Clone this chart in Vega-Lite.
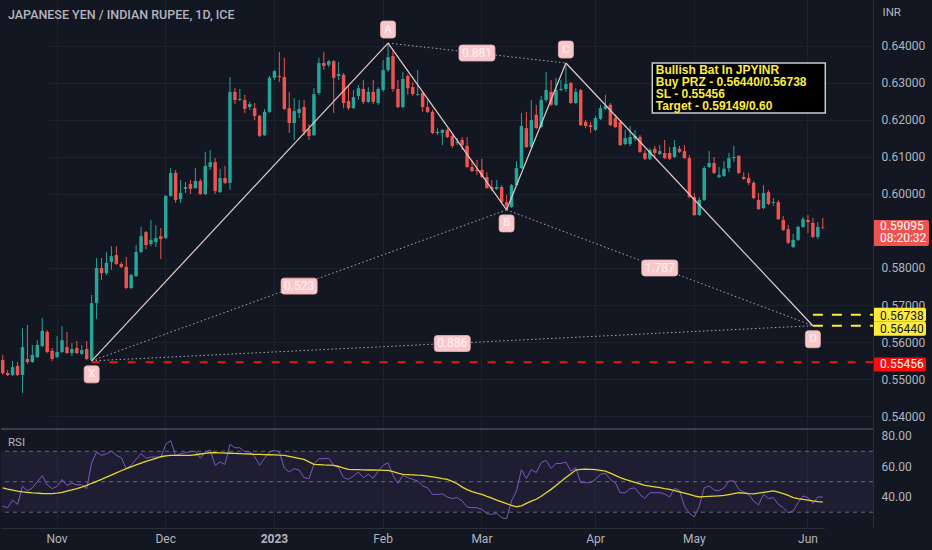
{
"$schema": "https://vega.github.io/schema/vega-lite/v6.json",
"background": "#131722",
"padding": 0,
"spacing": 0,
"config": {"view": {"stroke": null}, "font": "Roboto", "axis": {"labelFont": "Roboto", "titleFont": "Roboto"}},
"datasets": {
"bars": [
{"date":"2022-10-17","open":0.5551,"high":0.5565,"low":0.5511,"close":0.5516,"rsi":34,"rsiMA":46},
{"date":"2022-10-18","open":0.5516,"high":0.5524,"low":0.5508,"close":0.5511,"rsi":33,"rsiMA":45.2},
{"date":"2022-10-19","open":0.5511,"high":0.5549,"low":0.5508,"close":0.5532,"rsi":38,"rsiMA":44.5},
{"date":"2022-10-20","open":0.5535,"high":0.5546,"low":0.5508,"close":0.5511,"rsi":35,"rsiMA":43.8},
{"date":"2022-10-21","open":0.5511,"high":0.5638,"low":0.5462,"close":0.5586,"rsi":47,"rsiMA":43.3},
{"date":"2022-10-24","open":0.5554,"high":0.5646,"low":0.5541,"close":0.5546,"rsi":44,"rsiMA":43},
{"date":"2022-10-25","open":0.5546,"high":0.5592,"low":0.5543,"close":0.5565,"rsi":46,"rsiMA":42.7},
{"date":"2022-10-26","open":0.5559,"high":0.5605,"low":0.5557,"close":0.5592,"rsi":50,"rsiMA":42.5},
{"date":"2022-10-27","open":0.5589,"high":0.5665,"low":0.5586,"close":0.5630,"rsi":54,"rsiMA":42.3},
{"date":"2022-10-28","open":0.5627,"high":0.5632,"low":0.5570,"close":0.5573,"rsi":48,"rsiMA":42.2},
{"date":"2022-10-31","open":0.5576,"high":0.5584,"low":0.5549,"close":0.5554,"rsi":45.5,"rsiMA":42.2},
{"date":"2022-11-01","open":0.5559,"high":0.5616,"low":0.5557,"close":0.5573,"rsi":47,"rsiMA":42.5},
{"date":"2022-11-02","open":0.5573,"high":0.5643,"low":0.5570,"close":0.5605,"rsi":51.5,"rsiMA":43},
{"date":"2022-11-03","open":0.5586,"high":0.5627,"low":0.5568,"close":0.5570,"rsi":47.6,"rsiMA":43.8},
{"date":"2022-11-04","open":0.5570,"high":0.5597,"low":0.5562,"close":0.5581,"rsi":49,"rsiMA":44.6},
{"date":"2022-11-07","open":0.5584,"high":0.5603,"low":0.5568,"close":0.5570,"rsi":48,"rsiMA":45.5},
{"date":"2022-11-08","open":0.5568,"high":0.5592,"low":0.5565,"close":0.5578,"rsi":48,"rsiMA":46.5},
{"date":"2022-11-09","open":0.5581,"high":0.5603,"low":0.5551,"close":0.5554,"rsi":45.5,"rsiMA":47.6},
{"date":"2022-11-10","open":0.5551,"high":0.5727,"low":0.5549,"close":0.5705,"rsi":62.5,"rsiMA":49},
{"date":"2022-11-11","open":0.5705,"high":0.5827,"low":0.5662,"close":0.5800,"rsi":69.5,"rsiMA":50.3},
{"date":"2022-11-14","open":0.5800,"high":0.5827,"low":0.5768,"close":0.5786,"rsi":67.3,"rsiMA":51.6},
{"date":"2022-11-15","open":0.5786,"high":0.5843,"low":0.5781,"close":0.5814,"rsi":68.4,"rsiMA":53},
{"date":"2022-11-16","open":0.5816,"high":0.5859,"low":0.5795,"close":0.5832,"rsi":70,"rsiMA":54.4},
{"date":"2022-11-17","open":0.5835,"high":0.5859,"low":0.5808,"close":0.5811,"rsi":67.3,"rsiMA":55.8},
{"date":"2022-11-18","open":0.5811,"high":0.5816,"low":0.5800,"close":0.5803,"rsi":65.8,"rsiMA":57.2},
{"date":"2022-11-21","open":0.5803,"high":0.5830,"low":0.5743,"close":0.5746,"rsi":58.6,"rsiMA":58.6},
{"date":"2022-11-22","open":0.5746,"high":0.5784,"low":0.5743,"close":0.5781,"rsi":60.8,"rsiMA":59.8},
{"date":"2022-11-23","open":0.5778,"high":0.5862,"low":0.5776,"close":0.5843,"rsi":64.7,"rsiMA":61},
{"date":"2022-11-24","open":0.5843,"high":0.5911,"low":0.5841,"close":0.5886,"rsi":68.4,"rsiMA":62.2},
{"date":"2022-11-25","open":0.5897,"high":0.5900,"low":0.5851,"close":0.5862,"rsi":65.4,"rsiMA":63.3},
{"date":"2022-11-28","open":0.5865,"high":0.5930,"low":0.5859,"close":0.5876,"rsi":66.2,"rsiMA":64.3},
{"date":"2022-11-29","open":0.5870,"high":0.5916,"low":0.5857,"close":0.5881,"rsi":66.2,"rsiMA":65.4},
{"date":"2022-11-30","open":0.5886,"high":0.5908,"low":0.5824,"close":0.5878,"rsi":66,"rsiMA":66.4},
{"date":"2022-12-01","open":0.5881,"high":0.5997,"low":0.5878,"close":0.5995,"rsi":74.5,"rsiMA":67},
{"date":"2022-12-02","open":0.5995,"high":0.6070,"low":0.5992,"close":0.6057,"rsi":77,"rsiMA":67.3},
{"date":"2022-12-05","open":0.6057,"high":0.6065,"low":0.5976,"close":0.5984,"rsi":67.3,"rsiMA":67.3},
{"date":"2022-12-06","open":0.5986,"high":0.6038,"low":0.5976,"close":0.6003,"rsi":68.4,"rsiMA":67.3},
{"date":"2022-12-07","open":0.6014,"high":0.6032,"low":0.6003,"close":0.6019,"rsi":69,"rsiMA":67.3},
{"date":"2022-12-08","open":0.6027,"high":0.6038,"low":0.6000,"close":0.6014,"rsi":69.7,"rsiMA":67.3},
{"date":"2022-12-09","open":0.6016,"high":0.6070,"low":0.6014,"close":0.6035,"rsi":70,"rsiMA":67.7},
{"date":"2022-12-12","open":0.6035,"high":0.6041,"low":0.5997,"close":0.6000,"rsi":65.4,"rsiMA":68.2},
{"date":"2022-12-13","open":0.6000,"high":0.6114,"low":0.5997,"close":0.6076,"rsi":69.5,"rsiMA":68.6},
{"date":"2022-12-14","open":0.6073,"high":0.6119,"low":0.6065,"close":0.6086,"rsi":70.8,"rsiMA":69},
{"date":"2022-12-15","open":0.6086,"high":0.6097,"low":0.6000,"close":0.6008,"rsi":60.8,"rsiMA":69},
{"date":"2022-12-16","open":0.6005,"high":0.6068,"low":0.6003,"close":0.6043,"rsi":63,"rsiMA":68.9},
{"date":"2022-12-19","open":0.6043,"high":0.6076,"low":0.6027,"close":0.6030,"rsi":61.4,"rsiMA":68.8},
{"date":"2022-12-20","open":0.6030,"high":0.6316,"low":0.6011,"close":0.6276,"rsi":74.5,"rsiMA":68.7},
{"date":"2022-12-21","open":0.6276,"high":0.6286,"low":0.6243,"close":0.6254,"rsi":72.3,"rsiMA":68.6},
{"date":"2022-12-22","open":0.6254,"high":0.6284,"low":0.6251,"close":0.6257,"rsi":72.3,"rsiMA":68.5},
{"date":"2022-12-23","open":0.6254,"high":0.6268,"low":0.6219,"close":0.6230,"rsi":69.7,"rsiMA":68.3},
{"date":"2022-12-26","open":0.6235,"high":0.6249,"low":0.6227,"close":0.6243,"rsi":69.7,"rsiMA":68.2},
{"date":"2022-12-27","open":0.6232,"high":0.6246,"low":0.6200,"close":0.6211,"rsi":66.4,"rsiMA":68},
{"date":"2022-12-28","open":0.6211,"high":0.6214,"low":0.6154,"close":0.6157,"rsi":60.8,"rsiMA":67.9},
{"date":"2022-12-29","open":0.6159,"high":0.6230,"low":0.6157,"close":0.6222,"rsi":65.4,"rsiMA":67.8},
{"date":"2022-12-30","open":0.6222,"high":0.6319,"low":0.6219,"close":0.6314,"rsi":69.5,"rsiMA":67.7},
{"date":"2023-01-02","open":0.6314,"high":0.6335,"low":0.6308,"close":0.6332,"rsi":70.6,"rsiMA":67.6},
{"date":"2023-01-03","open":0.6319,"high":0.6384,"low":0.6303,"close":0.6316,"rsi":69.5,"rsiMA":67.4},
{"date":"2023-01-04","open":0.6316,"high":0.6368,"low":0.6227,"close":0.6230,"rsi":59,"rsiMA":67.3},
{"date":"2023-01-05","open":0.6232,"high":0.6276,"low":0.6165,"close":0.6192,"rsi":56.4,"rsiMA":66.7},
{"date":"2023-01-06","open":0.6192,"high":0.6259,"low":0.6146,"close":0.6224,"rsi":58.6,"rsiMA":66},
{"date":"2023-01-09","open":0.6219,"high":0.6254,"low":0.6205,"close":0.6230,"rsi":57.7,"rsiMA":65.3},
{"date":"2023-01-10","open":0.6235,"high":0.6254,"low":0.6159,"close":0.6168,"rsi":52.7,"rsiMA":64.7},
{"date":"2023-01-11","open":0.6176,"high":0.6189,"low":0.6146,"close":0.6157,"rsi":52,"rsiMA":63},
{"date":"2023-01-12","open":0.6159,"high":0.6286,"low":0.6157,"close":0.6270,"rsi":61.4,"rsiMA":61.4},
{"date":"2023-01-13","open":0.6273,"high":0.6368,"low":0.6268,"close":0.6354,"rsi":65.1,"rsiMA":61.2},
{"date":"2023-01-16","open":0.6354,"high":0.6384,"low":0.6335,"close":0.6346,"rsi":65.1,"rsiMA":61},
{"date":"2023-01-17","open":0.6349,"high":0.6362,"low":0.6343,"close":0.6359,"rsi":65.4,"rsiMA":60.9},
{"date":"2023-01-18","open":0.6359,"high":0.6362,"low":0.6219,"close":0.6314,"rsi":60.8,"rsiMA":60.8},
{"date":"2023-01-19","open":0.6319,"high":0.6357,"low":0.6308,"close":0.6324,"rsi":59.2,"rsiMA":60},
{"date":"2023-01-20","open":0.6322,"high":0.6327,"low":0.6232,"close":0.6246,"rsi":52.7,"rsiMA":59},
{"date":"2023-01-23","open":0.6251,"high":0.6295,"low":0.6227,"close":0.6232,"rsi":51.6,"rsiMA":58.1},
{"date":"2023-01-24","open":0.6232,"high":0.6281,"low":0.6230,"close":0.6262,"rsi":53.8,"rsiMA":58},
{"date":"2023-01-25","open":0.6265,"high":0.6295,"low":0.6254,"close":0.6286,"rsi":56.4,"rsiMA":57.9},
{"date":"2023-01-26","open":0.6284,"high":0.6308,"low":0.6243,"close":0.6249,"rsi":52.7,"rsiMA":57.8},
{"date":"2023-01-27","open":0.6249,"high":0.6289,"low":0.6246,"close":0.6276,"rsi":54.9,"rsiMA":57.7},
{"date":"2023-01-30","open":0.6276,"high":0.6308,"low":0.6243,"close":0.6249,"rsi":52.2,"rsiMA":57.7},
{"date":"2023-01-31","open":0.6246,"high":0.6289,"low":0.6241,"close":0.6284,"rsi":57,"rsiMA":57.6},
{"date":"2023-02-01","open":0.6281,"high":0.6362,"low":0.6276,"close":0.6335,"rsi":60.8,"rsiMA":57.5},
{"date":"2023-02-02","open":0.6335,"high":0.6408,"low":0.6330,"close":0.6370,"rsi":62.5,"rsiMA":57.5},
{"date":"2023-02-03","open":0.6373,"high":0.6389,"low":0.6276,"close":0.6284,"rsi":54.2,"rsiMA":56.6},
{"date":"2023-02-06","open":0.6284,"high":0.6308,"low":0.6232,"close":0.6235,"rsi":49,"rsiMA":55.7},
{"date":"2023-02-07","open":0.6235,"high":0.6330,"low":0.6232,"close":0.6311,"rsi":54.2,"rsiMA":54.9},
{"date":"2023-02-08","open":0.6319,"high":0.6324,"low":0.6268,"close":0.6286,"rsi":52.7,"rsiMA":54.7},
{"date":"2023-02-09","open":0.6289,"high":0.6303,"low":0.6265,"close":0.6270,"rsi":51.6,"rsiMA":54.5},
{"date":"2023-02-10","open":0.6268,"high":0.6335,"low":0.6265,"close":0.6270,"rsi":50.5,"rsiMA":54.3},
{"date":"2023-02-13","open":0.6273,"high":0.6278,"low":0.6222,"close":0.6235,"rsi":47.2,"rsiMA":54.2},
{"date":"2023-02-14","open":0.6235,"high":0.6254,"low":0.6219,"close":0.6222,"rsi":46,"rsiMA":53.7},
{"date":"2023-02-15","open":0.6222,"high":0.6227,"low":0.6162,"close":0.6165,"rsi":41.7,"rsiMA":53.2},
{"date":"2023-02-16","open":0.6165,"high":0.6178,"low":0.6159,"close":0.6168,"rsi":41.7,"rsiMA":52.7},
{"date":"2023-02-17","open":0.6165,"high":0.6176,"low":0.6132,"close":0.6173,"rsi":42,"rsiMA":52.1},
{"date":"2023-02-20","open":0.6173,"high":0.6178,"low":0.6151,"close":0.6154,"rsi":40,"rsiMA":51.6},
{"date":"2023-02-21","open":0.6157,"high":0.6162,"low":0.6124,"close":0.6130,"rsi":39,"rsiMA":50.2},
{"date":"2023-02-22","open":0.6138,"high":0.6151,"low":0.6132,"close":0.6141,"rsi":39.6,"rsiMA":48.7},
{"date":"2023-02-23","open":0.6146,"high":0.6154,"low":0.6119,"close":0.6132,"rsi":37.4,"rsiMA":46.5},
{"date":"2023-02-24","open":0.6130,"high":0.6154,"low":0.6070,"close":0.6073,"rsi":33.5,"rsiMA":44.8},
{"date":"2023-02-27","open":0.6073,"high":0.6092,"low":0.6059,"close":0.6062,"rsi":33,"rsiMA":43.5},
{"date":"2023-02-28","open":0.6065,"high":0.6092,"low":0.6051,"close":0.6062,"rsi":33,"rsiMA":42.5},
{"date":"2023-03-01","open":0.6065,"high":0.6095,"low":0.6043,"close":0.6046,"rsi":32,"rsiMA":41.7},
{"date":"2023-03-02","open":0.6046,"high":0.6059,"low":0.6014,"close":0.6016,"rsi":29,"rsiMA":40.4},
{"date":"2023-03-03","open":0.6019,"high":0.6038,"low":0.6008,"close":0.6014,"rsi":28.6,"rsiMA":39.2},
{"date":"2023-03-06","open":0.6014,"high":0.6038,"low":0.6011,"close":0.6019,"rsi":29.3,"rsiMA":38},
{"date":"2023-03-07","open":0.6019,"high":0.6024,"low":0.5976,"close":0.5978,"rsi":26.4,"rsiMA":36.8},
{"date":"2023-03-08","open":0.5978,"high":0.5997,"low":0.5957,"close":0.5968,"rsi":25.8,"rsiMA":35.6},
{"date":"2023-03-09","open":0.5965,"high":0.6027,"low":0.5962,"close":0.6024,"rsi":37.4,"rsiMA":34.5},
{"date":"2023-03-10","open":0.6024,"high":0.6089,"low":0.6022,"close":0.6070,"rsi":44,"rsiMA":33.6},
{"date":"2023-03-13","open":0.6070,"high":0.6219,"low":0.6068,"close":0.6184,"rsi":58,"rsiMA":34.2},
{"date":"2023-03-14","open":0.6178,"high":0.6222,"low":0.6124,"close":0.6127,"rsi":52,"rsiMA":35.8},
{"date":"2023-03-15","open":0.6127,"high":0.6254,"low":0.6124,"close":0.6200,"rsi":58,"rsiMA":37.3},
{"date":"2023-03-16","open":0.6214,"high":0.6241,"low":0.6176,"close":0.6178,"rsi":56,"rsiMA":38.5},
{"date":"2023-03-17","open":0.6181,"high":0.6265,"low":0.6178,"close":0.6254,"rsi":62.5,"rsiMA":40.5},
{"date":"2023-03-20","open":0.6254,"high":0.6330,"low":0.6249,"close":0.6281,"rsi":64,"rsiMA":42.8},
{"date":"2023-03-21","open":0.6276,"high":0.6308,"low":0.6238,"close":0.6241,"rsi":58.8,"rsiMA":45},
{"date":"2023-03-22","open":0.6241,"high":0.6314,"low":0.6238,"close":0.6281,"rsi":62,"rsiMA":47.6},
{"date":"2023-03-23","open":0.6281,"high":0.6308,"low":0.6278,"close":0.6284,"rsi":62,"rsiMA":50.2},
{"date":"2023-03-24","open":0.6284,"high":0.6354,"low":0.6276,"close":0.6297,"rsi":63,"rsiMA":52.8},
{"date":"2023-03-27","open":0.6300,"high":0.6303,"low":0.6243,"close":0.6246,"rsi":57,"rsiMA":55.3},
{"date":"2023-03-28","open":0.6246,"high":0.6286,"low":0.6243,"close":0.6276,"rsi":59.2,"rsiMA":57.7},
{"date":"2023-03-29","open":0.6281,"high":0.6284,"low":0.6184,"close":0.6186,"rsi":49.4,"rsiMA":58.1},
{"date":"2023-03-30","open":0.6195,"high":0.6200,"low":0.6178,"close":0.6184,"rsi":49.4,"rsiMA":58.2},
{"date":"2023-03-31","open":0.6186,"high":0.6195,"low":0.6165,"close":0.6181,"rsi":49.4,"rsiMA":58.1},
{"date":"2023-04-03","open":0.6173,"high":0.6211,"low":0.6170,"close":0.6205,"rsi":51.6,"rsiMA":57.9},
{"date":"2023-04-04","open":0.6203,"high":0.6241,"low":0.6200,"close":0.6232,"rsi":54.9,"rsiMA":57.5},
{"date":"2023-04-05","open":0.6230,"high":0.6268,"low":0.6227,"close":0.6238,"rsi":55.5,"rsiMA":57},
{"date":"2023-04-06","open":0.6241,"high":0.6246,"low":0.6184,"close":0.6186,"rsi":51.6,"rsiMA":55.6},
{"date":"2023-04-07","open":0.6205,"high":0.6214,"low":0.6178,"close":0.6181,"rsi":49.4,"rsiMA":54.2},
{"date":"2023-04-10","open":0.6195,"high":0.6200,"low":0.6130,"close":0.6132,"rsi":42.8,"rsiMA":52.7},
{"date":"2023-04-11","open":0.6135,"high":0.6173,"low":0.6132,"close":0.6151,"rsi":42.8,"rsiMA":51.6},
{"date":"2023-04-12","open":0.6135,"high":0.6184,"low":0.6130,"close":0.6154,"rsi":45.5,"rsiMA":50.6},
{"date":"2023-04-13","open":0.6149,"high":0.6173,"low":0.6143,"close":0.6157,"rsi":46,"rsiMA":49.6},
{"date":"2023-04-14","open":0.6154,"high":0.6159,"low":0.6111,"close":0.6114,"rsi":41.7,"rsiMA":48.6},
{"date":"2023-04-17","open":0.6111,"high":0.6119,"low":0.6092,"close":0.6095,"rsi":39,"rsiMA":47.6},
{"date":"2023-04-18","open":0.6095,"high":0.6124,"low":0.6092,"close":0.6119,"rsi":42.8,"rsiMA":47.1},
{"date":"2023-04-19","open":0.6122,"high":0.6130,"low":0.6097,"close":0.6111,"rsi":42.8,"rsiMA":46.6},
{"date":"2023-04-20","open":0.6108,"high":0.6132,"low":0.6105,"close":0.6116,"rsi":42.8,"rsiMA":46.1},
{"date":"2023-04-21","open":0.6111,"high":0.6146,"low":0.6095,"close":0.6097,"rsi":42,"rsiMA":45.5},
{"date":"2023-04-24","open":0.6111,"high":0.6127,"low":0.6092,"close":0.6095,"rsi":40,"rsiMA":45},
{"date":"2023-04-25","open":0.6100,"high":0.6146,"low":0.6097,"close":0.6127,"rsi":45.7,"rsiMA":44.2},
{"date":"2023-04-26","open":0.6122,"high":0.6130,"low":0.6111,"close":0.6114,"rsi":44.4,"rsiMA":43.4},
{"date":"2023-04-27","open":0.6116,"high":0.6132,"low":0.6095,"close":0.6097,"rsi":34,"rsiMA":42.6},
{"date":"2023-04-28","open":0.6097,"high":0.6105,"low":0.5989,"close":0.5992,"rsi":29.3,"rsiMA":41.7},
{"date":"2023-05-01","open":0.5992,"high":0.6003,"low":0.5941,"close":0.5943,"rsi":27,"rsiMA":40.8},
{"date":"2023-05-02","open":0.5943,"high":0.5992,"low":0.5941,"close":0.5984,"rsi":34,"rsiMA":40},
{"date":"2023-05-03","open":0.5984,"high":0.6076,"low":0.5981,"close":0.6070,"rsi":46,"rsiMA":40.2},
{"date":"2023-05-04","open":0.6073,"high":0.6116,"low":0.6070,"close":0.6084,"rsi":47.2,"rsiMA":40.4},
{"date":"2023-05-05","open":0.6084,"high":0.6100,"low":0.6054,"close":0.6057,"rsi":44.6,"rsiMA":40.6},
{"date":"2023-05-08","open":0.6046,"high":0.6073,"low":0.6043,"close":0.6051,"rsi":44,"rsiMA":40.8},
{"date":"2023-05-09","open":0.6049,"high":0.6089,"low":0.6046,"close":0.6068,"rsi":46,"rsiMA":41},
{"date":"2023-05-10","open":0.6070,"high":0.6111,"low":0.6059,"close":0.6097,"rsi":50.5,"rsiMA":41.6},
{"date":"2023-05-11","open":0.6097,"high":0.6130,"low":0.6086,"close":0.6100,"rsi":50.5,"rsiMA":42.2},
{"date":"2023-05-12","open":0.6103,"high":0.6105,"low":0.6054,"close":0.6057,"rsi":45,"rsiMA":42.8},
{"date":"2023-05-15","open":0.6046,"high":0.6059,"low":0.6038,"close":0.6041,"rsi":43.3,"rsiMA":42.5},
{"date":"2023-05-16","open":0.6043,"high":0.6057,"low":0.6024,"close":0.6030,"rsi":41.7,"rsiMA":42.2},
{"date":"2023-05-17","open":0.6030,"high":0.6035,"low":0.5986,"close":0.5989,"rsi":37.4,"rsiMA":42},
{"date":"2023-05-18","open":0.5984,"high":0.6003,"low":0.5957,"close":0.5959,"rsi":34.8,"rsiMA":42.5},
{"date":"2023-05-19","open":0.5962,"high":0.6024,"low":0.5959,"close":0.6003,"rsi":41.7,"rsiMA":43},
{"date":"2023-05-22","open":0.6005,"high":0.6011,"low":0.5970,"close":0.5973,"rsi":39,"rsiMA":43.5},
{"date":"2023-05-23","open":0.5976,"high":0.5989,"low":0.5968,"close":0.5978,"rsi":39.6,"rsiMA":44},
{"date":"2023-05-24","open":0.5978,"high":0.5984,"low":0.5930,"close":0.5932,"rsi":35.2,"rsiMA":43.2},
{"date":"2023-05-25","open":0.5930,"high":0.5941,"low":0.5900,"close":0.5903,"rsi":33,"rsiMA":42.2},
{"date":"2023-05-26","open":0.5905,"high":0.5916,"low":0.5865,"close":0.5868,"rsi":29.7,"rsiMA":41},
{"date":"2023-05-29","open":0.5857,"high":0.5892,"low":0.5854,"close":0.5876,"rsi":30.8,"rsiMA":39.6},
{"date":"2023-05-30","open":0.5876,"high":0.5914,"low":0.5873,"close":0.5911,"rsi":36.3,"rsiMA":39},
{"date":"2023-05-31","open":0.5911,"high":0.5938,"low":0.5908,"close":0.5932,"rsi":40.7,"rsiMA":38.5},
{"date":"2023-06-01","open":0.5930,"high":0.5943,"low":0.5895,"close":0.5924,"rsi":39.6,"rsiMA":38},
{"date":"2023-06-02","open":0.5922,"high":0.5935,"low":0.5881,"close":0.5884,"rsi":35.8,"rsiMA":37.4},
{"date":"2023-06-05","open":0.5884,"high":0.5924,"low":0.5878,"close":0.5911,"rsi":40,"rsiMA":37},
{"date":"2023-06-06","open":0.5911,"high":0.5935,"low":0.5905,"close":0.59095,"rsi":40,"rsiMA":36.7}
],
"points": [
{"point":"X","date":"2022-11-10","price":0.5549,"side":"below"},
{"point":"A","date":"2023-02-02","price":0.6408,"side":"above"},
{"point":"B","date":"2023-03-08","price":0.5957,"side":"below"},
{"point":"C","date":"2023-03-24","price":0.6354,"side":"above"},
{"point":"D","date":"2023-06-02","price":0.5644,"side":"below"}
],
"legs": [
{"d1":"2022-11-10","p1":0.5549,"d2":"2023-02-02","p2":0.6408,"style":"solid"},
{"d1":"2023-02-02","p1":0.6408,"d2":"2023-03-08","p2":0.5957,"style":"solid"},
{"d1":"2023-03-08","p1":0.5957,"d2":"2023-03-24","p2":0.6354,"style":"solid"},
{"d1":"2023-03-24","p1":0.6354,"d2":"2023-06-02","p2":0.5644,"style":"solid"},
{"d1":"2022-11-10","p1":0.5549,"d2":"2023-03-08","p2":0.5957,"style":"dotted"},
{"d1":"2023-02-02","p1":0.6408,"d2":"2023-03-24","p2":0.6354,"style":"dotted"},
{"d1":"2023-03-08","p1":0.5957,"d2":"2023-06-02","p2":0.5644,"style":"dotted"},
{"d1":"2022-11-10","p1":0.5549,"d2":"2023-06-02","p2":0.5644,"style":"dotted"}
],
"ratios": [
{"date":"2023-01-09","price":0.5751,"label":"0.523"},
{"date":"2023-02-28","price":0.6381,"label":"0.881"},
{"date":"2023-04-20","price":0.5800,"label":"1.787"},
{"date":"2023-02-21","price":0.5596,"label":"0.886"}
],
"levels": [
{"name":"PRZ high","price":0.56738,"from":"2023-06-02"},
{"name":"PRZ low","price":0.5644,"from":"2023-06-02"},
{"name":"SL","price":0.55456,"from":"2022-11-10"}
],
"last": [{"price":0.59095,"countdown":"08:20:32"}],
"note": [{"date":"2023-05-12","price":0.62865,"text":"Bullish Bat In JPYINR\nBuy PRZ - 0.56440/0.56738\nSL - 0.55456\nTarget - 0.59149/0.60"}]
},
"vconcat": [
{
"width": 872,
"height": 428,
"title": {"text": "JAPANESE YEN / INDIAN RUPEE, 1D, ICE", "anchor": "start", "frame": "group", "offset": -21, "dx": 7, "fontSize": 12.5, "fontWeight": 500, "color": "#b2b5be"},
"encoding": {
"x": {"field": "date", "type": "ordinal",
"scale": {"type": "band", "paddingInner": 0.3, "paddingOuter": 0, "align": 0, "range": [0, 823.5]},
"axis": {"values": ["2022-11-01","2022-12-01","2023-01-02","2023-02-01","2023-03-01","2023-04-03","2023-05-01","2023-06-01"], "labels": false, "ticks": false, "domain": false, "grid": true, "gridColor": "#1e222d", "title": null, "minExtent": 0, "maxExtent": 0, "zindex": 0}}
},
"layer": [
{"data": {"name": "bars"}, "mark": {"type": "rule", "strokeWidth": 1},
"encoding": {
"y": {"field": "low", "type": "quantitative", "scale": {"domain": [0.536757, 0.652432], "nice": false, "zero": false},
"axis": {"orient": "right", "values": [0.54,0.55,0.56,0.57,0.58,0.60,0.61,0.62,0.63,0.64], "format": ".5f", "labelColor": "#b2b5be", "labelFontSize": 12, "labelPadding": 8, "ticks": false, "domain": true, "domainColor": "#2a2e39", "grid": true, "gridColor": "#1e222d", "title": "INR", "titleAngle": 0, "titleX": 9, "titleY": 12, "titleAlign": "left", "titleBaseline": "middle", "titleColor": "#b2b5be", "titleFontSize": 11.5, "titleFontWeight": "normal", "minExtent": 60, "maxExtent": 60, "zindex": 0}},
"y2": {"field": "high"},
"color": {"condition": {"test": "datum.close >= datum.open", "value": "#26a69a"}, "value": "#ef5350"}
}},
{"data": {"name": "bars"}, "mark": {"type": "bar"},
"encoding": {
"y": {"field": "open", "type": "quantitative"},
"y2": {"field": "close"},
"color": {"condition": {"test": "datum.close >= datum.open", "value": "#26a69a"}, "value": "#ef5350"}
}},
{"data": {"name": "legs"}, "transform": [{"filter": "datum.style == 'dotted'"}],
"mark": {"type": "rule", "color": "#a7aab2", "strokeWidth": 1, "strokeDash": [1.5, 2.5]},
"encoding": {"x": {"field": "d1", "type": "ordinal"}, "x2": {"field": "d2"}, "y": {"field": "p1", "type": "quantitative"}, "y2": {"field": "p2"}}},
{"data": {"name": "legs"}, "transform": [{"filter": "datum.style == 'solid'"}],
"mark": {"type": "rule", "color": "#e6cbcb", "strokeWidth": 1.2},
"encoding": {"x": {"field": "d1", "type": "ordinal"}, "x2": {"field": "d2"}, "y": {"field": "p1", "type": "quantitative"}, "y2": {"field": "p2"}}},
{"data": {"name": "levels"}, "transform": [{"filter": "datum.name == 'SL'"}],
"mark": {"type": "rule", "color": "#e01b1b", "strokeWidth": 2, "strokeDash": [8, 10]},
"encoding": {"x": {"field": "from", "type": "ordinal"}, "x2": {"value": "width"}, "y": {"field": "price", "type": "quantitative"}}},
{"data": {"name": "levels"}, "transform": [{"filter": "datum.name != 'SL'"}],
"mark": {"type": "rule", "color": "#ffeb3b", "strokeWidth": 2, "strokeDash": [10, 9]},
"encoding": {"x": {"field": "from", "type": "ordinal"}, "x2": {"value": "width"}, "y": {"field": "price", "type": "quantitative"}}},
{"data": {"name": "ratios"},
"mark": {"type": "point", "shape": "M-0.833,-0.444 H0.833 Q1,-0.444 1,-0.278 V0.278 Q1,0.444 0.833,0.444 H-0.833 Q-1,0.444 -1,0.278 V-0.278 Q-1,-0.444 -0.833,-0.444 Z", "size": 1296, "filled": true, "fill": "#f8c8cb", "stroke": "#e9b3b7", "strokeWidth": 0.8, "opacity": 1},
"encoding": {"y": {"field": "price", "type": "quantitative"}}},
{"data": {"name": "ratios"},
"mark": {"type": "text", "color": "#fff3f3", "fontSize": 12, "align": "center", "baseline": "middle"},
"encoding": {"y": {"field": "price", "type": "quantitative"}, "text": {"field": "label"}}},
{"data": {"name": "points"}, "transform": [{"filter": "datum.side == 'above'"}],
"mark": {"type": "point", "shape": "M-0.529,-1 H0.529 Q0.882,-1 0.882,-0.647 V0.647 Q0.882,1 0.529,1 H-0.529 Q-0.882,1 -0.882,0.647 V-0.647 Q-0.882,-1 -0.529,-1 Z", "size": 289, "filled": true, "fill": "#f8c8cb", "stroke": "#e9b3b7", "strokeWidth": 0.8, "opacity": 1, "yOffset": -13.5},
"encoding": {"y": {"field": "price", "type": "quantitative"}}},
{"data": {"name": "points"}, "transform": [{"filter": "datum.side == 'above'"}],
"mark": {"type": "text", "color": "#fff3f3", "fontSize": 11.5, "align": "center", "baseline": "middle", "yOffset": -13.5},
"encoding": {"y": {"field": "price", "type": "quantitative"}, "text": {"field": "point"}}},
{"data": {"name": "points"}, "transform": [{"filter": "datum.side == 'below'"}],
"mark": {"type": "point", "shape": "M-0.529,-1 H0.529 Q0.882,-1 0.882,-0.647 V0.647 Q0.882,1 0.529,1 H-0.529 Q-0.882,1 -0.882,0.647 V-0.647 Q-0.882,-1 -0.529,-1 Z", "size": 289, "filled": true, "fill": "#f8c8cb", "stroke": "#e9b3b7", "strokeWidth": 0.8, "opacity": 1, "yOffset": 13.5},
"encoding": {"y": {"field": "price", "type": "quantitative"}}},
{"data": {"name": "points"}, "transform": [{"filter": "datum.side == 'below'"}],
"mark": {"type": "text", "color": "#fff3f3", "fontSize": 11.5, "align": "center", "baseline": "middle", "yOffset": 13.5},
"encoding": {"y": {"field": "price", "type": "quantitative"}, "text": {"field": "point"}}},
{"data": {"name": "note"},
"mark": {"type": "point", "shape": "M-1,-0.289 H1 V0.289 H-1 Z", "size": 29929, "filled": true, "fill": "#000000", "stroke": "#c9cbd1", "strokeWidth": 1.5, "opacity": 1},
"encoding": {"y": {"field": "price", "type": "quantitative"}}},
{"data": {"name": "note"},
"mark": {"type": "text", "color": "#ffeb3b", "fontSize": 12, "fontWeight": "bold", "font": "Liberation Sans", "align": "left", "baseline": "middle", "dx": -83, "dy": -17.5, "lineBreak": "\n", "lineHeight": 12},
"encoding": {"y": {"field": "price", "type": "quantitative"}, "text": {"field": "text"}}},
{"data": {"name": "last"},
"mark": {"type": "point", "shape": "M-1,-0.473 H0.927 Q1,-0.473 1,-0.4 V0.4 Q1,0.473 0.927,0.473 H-1 Z", "size": 3025, "filled": true, "fill": "#f0524f", "opacity": 1, "xOffset": 28.5, "yOffset": 5.5},
"encoding": {"x": {"value": "width"}, "y": {"field": "price", "type": "quantitative"}}},
{"data": {"name": "last"},
"mark": {"type": "text", "color": "#ffffff", "fontSize": 12, "align": "left", "baseline": "middle", "dx": 7, "dy": -1},
"encoding": {"x": {"value": "width"}, "y": {"field": "price", "type": "quantitative"}, "text": {"field": "price", "format": ".5f"}}},
{"data": {"name": "last"},
"mark": {"type": "text", "color": "#ffffff", "fontSize": 12, "align": "left", "baseline": "middle", "dx": 7, "dy": 11},
"encoding": {"x": {"value": "width"}, "y": {"field": "price", "type": "quantitative"}, "text": {"field": "countdown"}}},
{"data": {"name": "levels"}, "transform": [{"filter": "datum.name == 'PRZ high'"}],
"mark": {"type": "point", "shape": "M-1,-0.269 H0.923 Q1,-0.269 1,-0.192 V0.192 Q1,0.269 0.923,0.269 H-1 Z", "size": 2704, "filled": true, "fill": "#ffeb3b", "opacity": 1, "xOffset": 27, "yOffset": 0},
"encoding": {"x": {"value": "width"}, "y": {"field": "price", "type": "quantitative"}}},
{"data": {"name": "levels"}, "transform": [{"filter": "datum.name == 'PRZ low'"}],
"mark": {"type": "point", "shape": "M-1,-0.269 H0.923 Q1,-0.269 1,-0.192 V0.192 Q1,0.269 0.923,0.269 H-1 Z", "size": 2704, "filled": true, "fill": "#ffeb3b", "opacity": 1, "xOffset": 27, "yOffset": 3},
"encoding": {"x": {"value": "width"}, "y": {"field": "price", "type": "quantitative"}}},
{"data": {"name": "levels"}, "transform": [{"filter": "datum.name == 'SL'"}],
"mark": {"type": "point", "shape": "M-1,-0.269 H0.923 Q1,-0.269 1,-0.192 V0.192 Q1,0.269 0.923,0.269 H-1 Z", "size": 2704, "filled": true, "fill": "#f70d0d", "opacity": 1, "xOffset": 27, "yOffset": 2.4},
"encoding": {"x": {"value": "width"}, "y": {"field": "price", "type": "quantitative"}}},
{"data": {"name": "levels"}, "transform": [{"filter": "datum.name == 'PRZ high'"}],
"mark": {"type": "text", "color": "#131722", "fontSize": 12, "align": "left", "baseline": "middle", "dx": 7, "dy": 1},
"encoding": {"x": {"value": "width"}, "y": {"field": "price", "type": "quantitative"}, "text": {"field": "price", "format": ".5f"}}},
{"data": {"name": "levels"}, "transform": [{"filter": "datum.name == 'PRZ low'"}],
"mark": {"type": "text", "color": "#131722", "fontSize": 12, "align": "left", "baseline": "middle", "dx": 7, "dy": 3},
"encoding": {"x": {"value": "width"}, "y": {"field": "price", "type": "quantitative"}, "text": {"field": "price", "format": ".5f"}}},
{"data": {"name": "levels"}, "transform": [{"filter": "datum.name == 'SL'"}],
"mark": {"type": "text", "color": "#ffffff", "fontSize": 12, "align": "left", "baseline": "middle", "dx": 7, "dy": 2.3},
"encoding": {"x": {"value": "width"}, "y": {"field": "price", "type": "quantitative"}, "text": {"field": "price", "format": ".5f"}}}
]
},
{
"width": 872,
"height": 99,
"title": {"text": "RSI", "anchor": "start", "frame": "group", "offset": -20, "dx": 7, "fontSize": 11.5, "fontWeight": "normal", "color": "#b2b5be"},
"layer": [
{"data": {"values": [{"upper": 70, "lower": 30}]},
"mark": {"type": "rect", "color": "#7e57c2", "opacity": 0.1},
"encoding": {"y": {"field": "upper", "type": "quantitative", "scale": {"domain": [19.67, 84.59], "nice": false, "zero": false},
"axis": {"orient": "right", "values": [40, 60, 80], "format": ".2f", "labelColor": "#b2b5be", "labelFontSize": 12, "labelPadding": 8, "ticks": false, "domain": true, "domainColor": "#2a2e39", "grid": false, "title": null, "minExtent": 60, "maxExtent": 60, "zindex": 0}},
"y2": {"field": "lower"}}},
{"data": {"values": [{"level": 70}, {"level": 50}, {"level": 30}]},
"mark": {"type": "rule", "color": "#787b86", "strokeWidth": 1, "strokeDash": [4, 4], "opacity": 0.8},
"encoding": {"y": {"field": "level", "type": "quantitative"}}},
{"data": {"name": "bars"},
"mark": {"type": "line", "color": "#7e57c2", "strokeWidth": 1},
"encoding": {
"x": {"field": "date", "type": "ordinal",
"scale": {"type": "band", "paddingInner": 0.3, "paddingOuter": 0, "align": 0, "range": [0, 823.5]},
"axis": {"values": ["2022-11-01","2022-12-01","2023-01-02","2023-02-01","2023-03-01","2023-04-03","2023-05-01","2023-06-01"],
"labelExpr": "datum.value == '2023-01-02' ? '2023' : utcFormat(toDate(datum.value + 'T00:00:00Z'), '%b')",
"labelFontWeight": {"condition": {"test": "datum.value == '2023-01-02'", "value": "bold"}, "value": "normal"},
"labelAngle": 0, "labelColor": "#b2b5be", "labelFontSize": 12, "labelPadding": 5, "ticks": false, "domain": true, "domainColor": "#2a2e39", "grid": true, "gridColor": "#1e222d", "title": null, "minExtent": 23, "maxExtent": 23, "zindex": 0}},
"y": {"field": "rsi", "type": "quantitative"}}},
{"data": {"name": "bars"},
"mark": {"type": "line", "color": "#e6d62e", "strokeWidth": 1.3},
"encoding": {"x": {"field": "date", "type": "ordinal"}, "y": {"field": "rsiMA", "type": "quantitative"}}},
{"data": {"values": [{"top": 84.59}]},
"mark": {"type": "rule", "color": "#3a3e4a", "strokeWidth": 2, "x2Offset": 60},
"encoding": {"y": {"field": "top", "type": "quantitative"}}}
]
}
]
}
